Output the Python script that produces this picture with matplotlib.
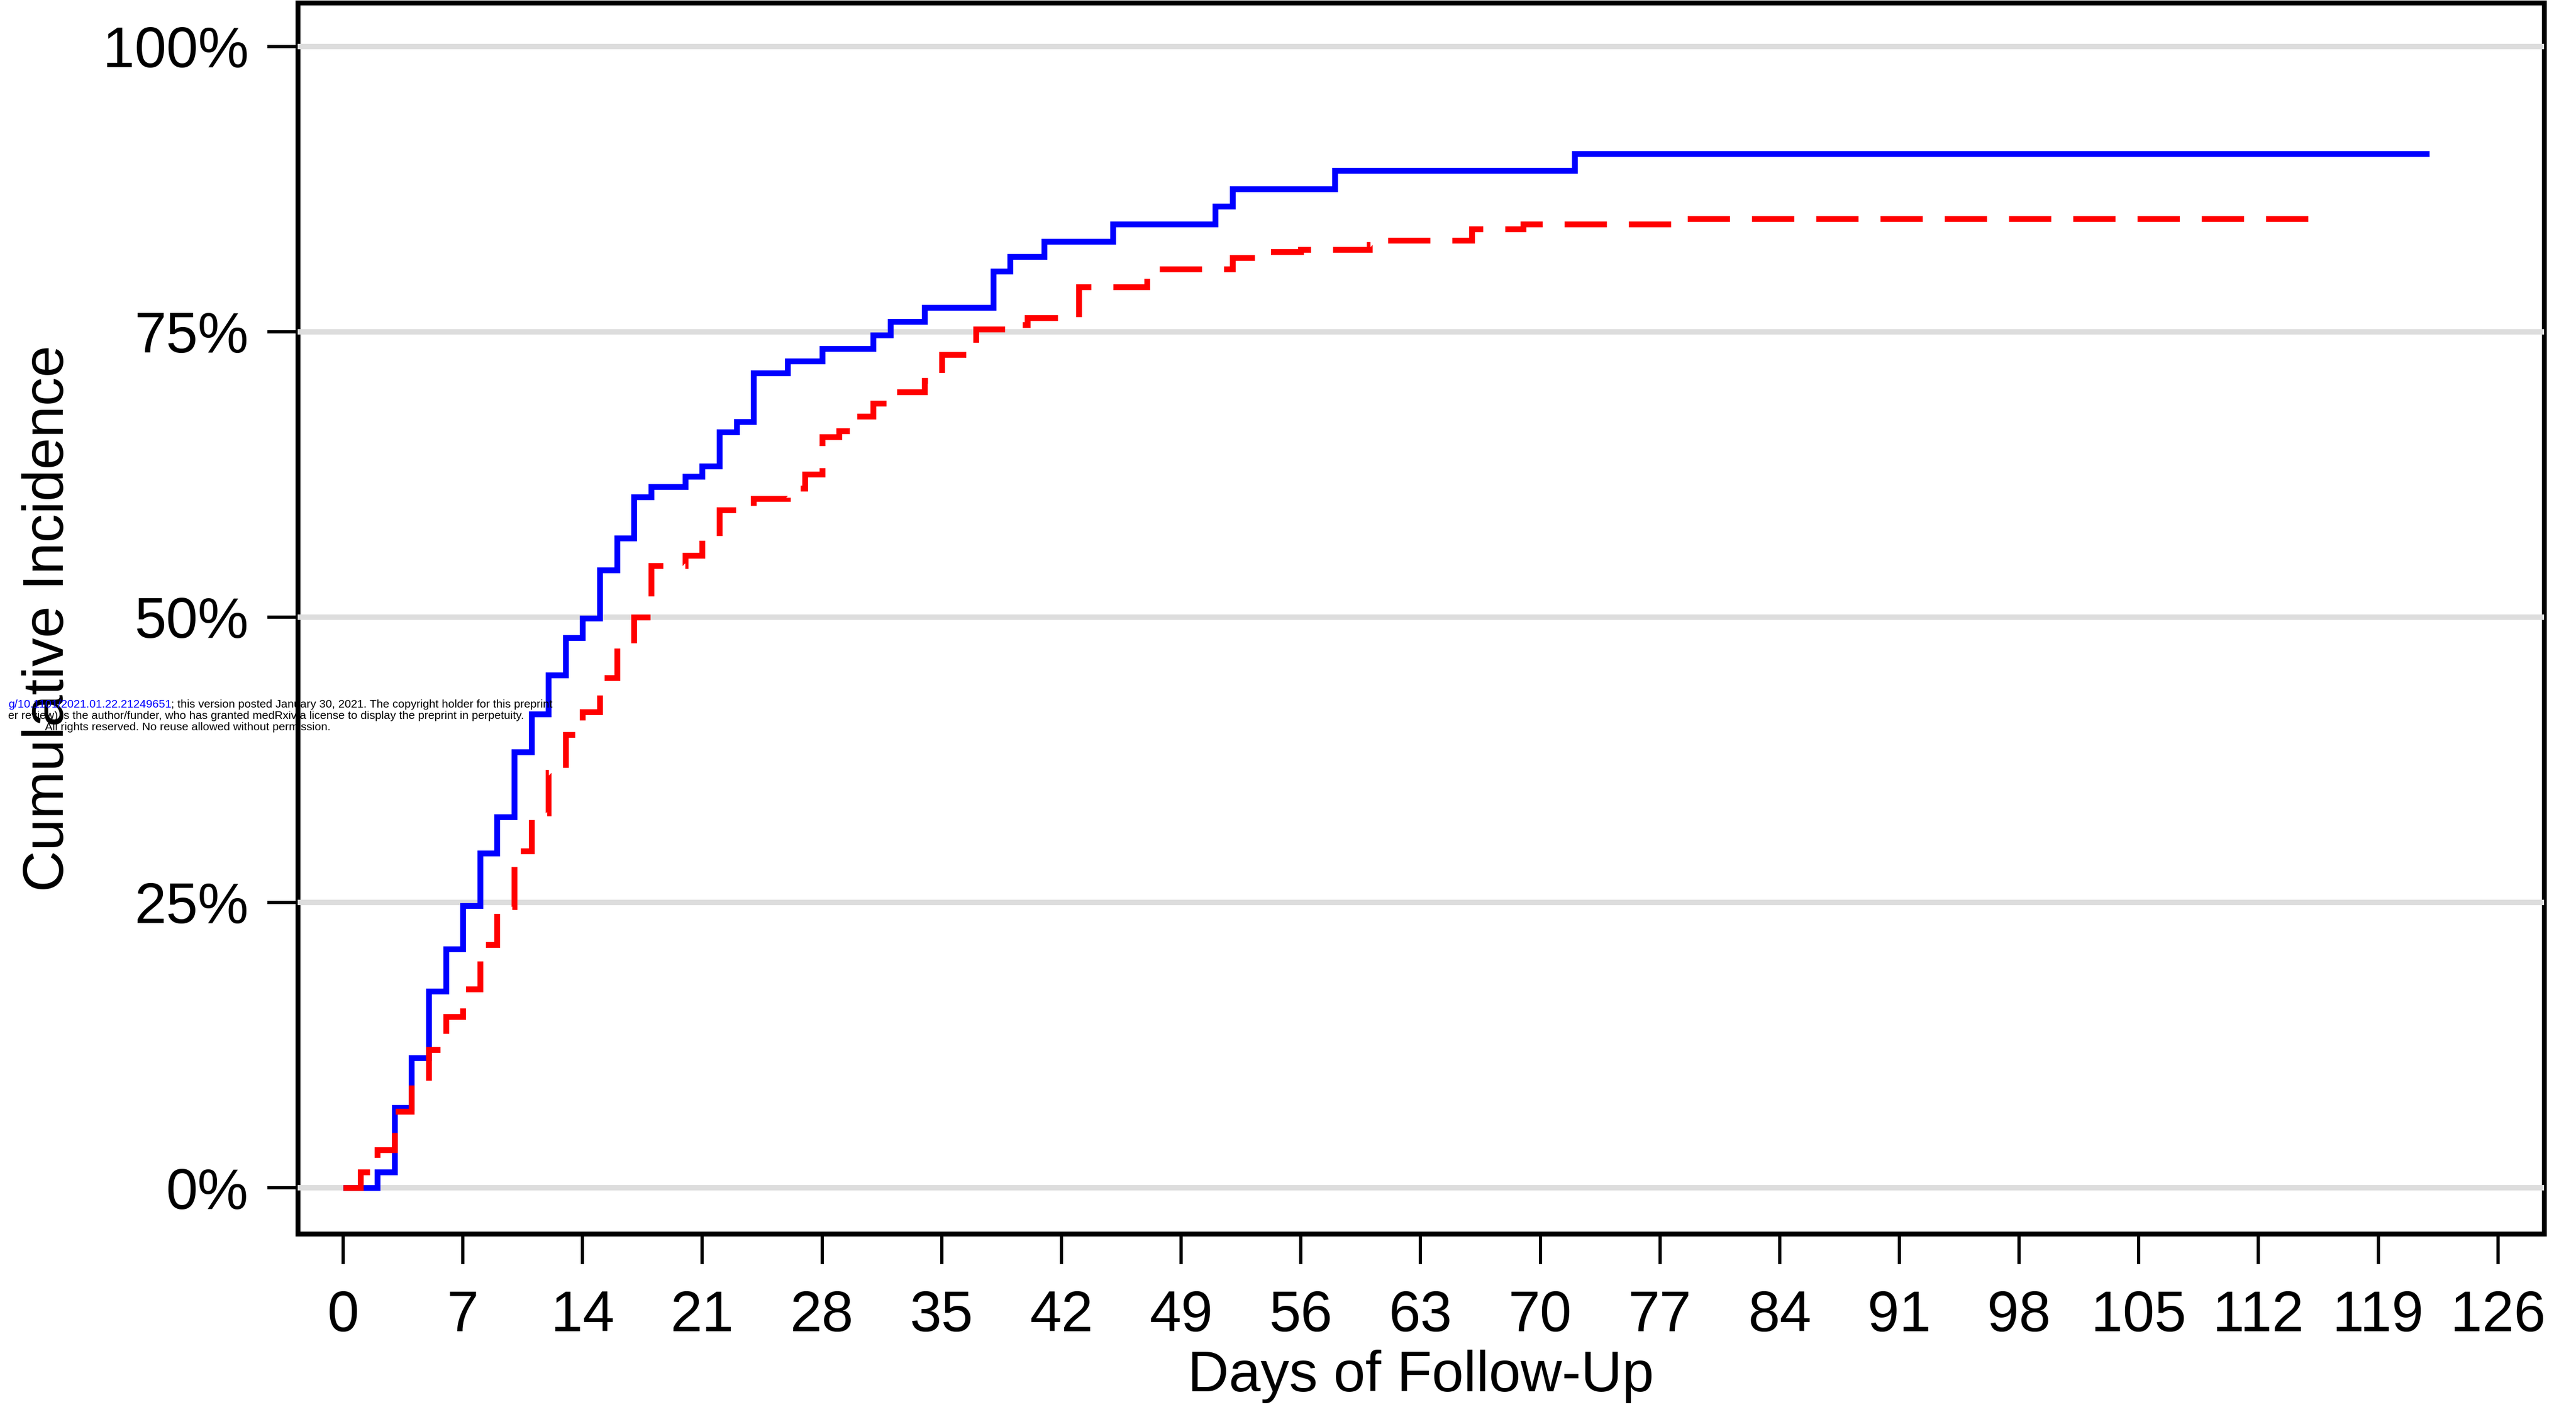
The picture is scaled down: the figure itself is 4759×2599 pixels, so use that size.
import matplotlib
matplotlib.use('Agg')
import matplotlib.pyplot as plt
from matplotlib.text import Annotation

plt.rcParams['font.family'] = ['Liberation Sans', 'DejaVu Sans']

# Kaplan-Meier style cumulative incidence (day, %).
blue_days = [0, 2, 3, 4, 5, 6, 7, 8, 9, 10, 11, 12, 13, 14, 15, 16, 17, 18,
             20, 21, 22, 23, 24, 26, 28, 31, 32, 34, 38, 39, 41, 45, 51, 52,
             58, 72, 122]
blue_pct = [0, 1.4, 7.0, 11.4, 17.2, 20.9, 24.7, 29.3, 32.5, 38.2, 41.5,
            44.9, 48.2, 49.9, 54.1, 56.9, 60.5, 61.4, 62.3, 63.2, 66.2, 67.1,
            71.4, 72.4, 73.5, 74.7, 75.9, 77.1, 80.3, 81.6, 82.9, 84.4, 86.0,
            87.5, 89.1, 90.6, 90.6]

red_days = [0, 1, 2, 3, 4, 5, 6, 7, 8, 9, 10, 11, 12, 13, 14, 15, 16, 17, 18,
            20, 21, 22, 24, 26, 27, 28, 29, 30, 31, 32, 34, 35, 37, 39, 40, 43,
            47, 52, 54, 56, 60, 61, 66, 69, 78, 115]
red_pct = [0, 1.4, 3.3, 6.7, 9.1, 12.1, 15.0, 17.4, 21.3, 24.6, 29.5, 32.8,
           36.4, 39.7, 41.7, 44.7, 47.6, 50.0, 54.5, 55.4, 56.9, 59.4, 60.4,
           61.3, 62.5, 65.8, 66.3, 67.6, 68.7, 69.7, 70.7, 73.0, 75.2, 75.6,
           76.2, 78.9, 80.5, 81.5, 82.0, 82.2, 82.6, 83.0, 84.0, 84.4, 84.9,
           84.9]

x_ticks = list(range(0, 127, 7))
y_ticks = [0, 25, 50, 75, 100]
y_tick_labels = ['0%', '25%', '50%', '75%', '100%']

# preprint stamp that sits over the figure
wm_blue = 'g/10.1101/2021.01.22.21249651'
wm_line1 = '; this version posted January 30, 2021. The copyright holder for this preprint'
wm_line2 = 'er review) is the author/funder, who has granted medRxiv a license to display the preprint in perpetuity.'
wm_line3 = 'All rights reserved. No reuse allowed without permission.'

W, H = 4759, 2599
fig = plt.figure(figsize=(W / 100, H / 100), dpi=100)
fig.patch.set_facecolor('white')
ax = fig.add_axes([550 / W, 320 / H, 4150 / W, 2274 / H])

ax.step(blue_days, blue_pct, where='post', color='#0000FF', lw=7.7,
        solid_joinstyle='miter', solid_capstyle='butt', zorder=3)
ax.step(red_days, red_pct, where='post', color='#FF0000', lw=7.7,
        linestyle=(0, (7.3, 3.8)), dash_joinstyle='miter',
        dash_capstyle='butt', zorder=3)

ax.set_xlim(-2.66, 128.7)
ax.set_ylim(-4.03, 103.82)
ax.set_xticks(x_ticks)
ax.set_yticks(y_ticks)
ax.set_yticklabels(y_tick_labels)
ax.tick_params(axis='both', direction='out', length=40, width=4.3,
               labelsize=76, color='black')
ax.tick_params(axis='x', pad=34)
ax.tick_params(axis='y', pad=25)

ax.yaxis.grid(True, color='#DDDDDD', lw=7.2)
ax.xaxis.grid(False)
for s in ax.spines.values():
    s.set_linewidth(6.5)
    s.set_zorder(1)

ax.set_xlabel('Days of Follow-Up', fontsize=76)
ax.xaxis.set_label_coords(0.5, -0.0941)
ax.set_ylabel('Cumulative Incidence', fontsize=76)
ax.yaxis.set_label_coords(-0.099, 0.5)

# stamp text
fs = 15.1
t1 = fig.text(1021 / W, 1 - 1307 / H, wm_line1, ha='right', va='baseline',
              fontsize=fs, color='black', zorder=10)
fig.add_artist(Annotation(wm_blue, xy=(0, 0), xycoords=t1, ha='right',
                          va='bottom', fontsize=fs, color='#0000FF', zorder=10))
fig.text(968 / W, 1 - 1328 / H, wm_line2, ha='right', va='baseline',
         fontsize=fs, color='black', zorder=10)
fig.text(347 / W, 1 - 1349 / H, wm_line3, ha='center', va='baseline',
         fontsize=fs, color='black', zorder=10)

fig.savefig('out.png', dpi=100)
